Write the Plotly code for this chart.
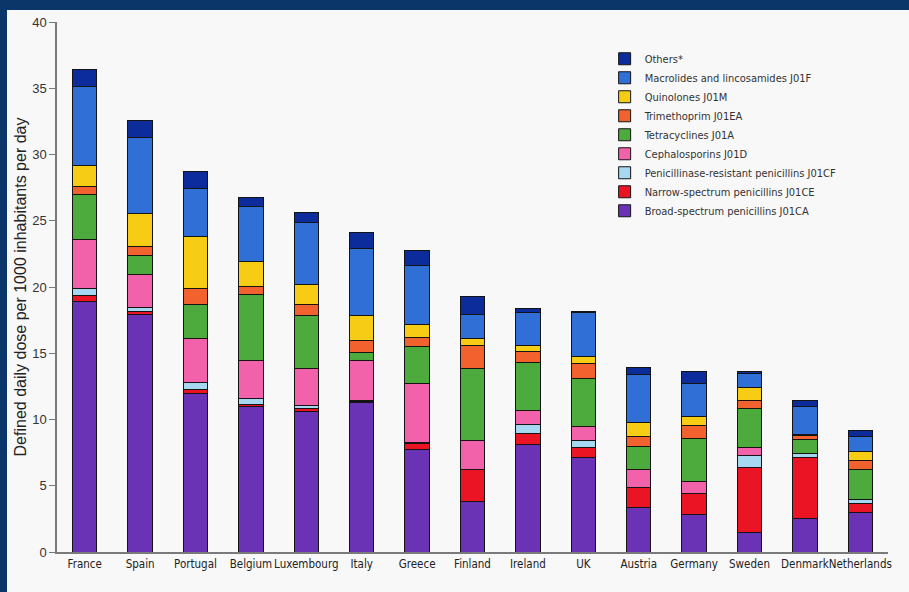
import plotly.graph_objects as go

countries = ["France", "Spain", "Portugal", "Belgium", "Luxembourg", "Italy", "Greece",
             "Finland", "Ireland", "UK", "Austria", "Germany", "Sweden", "Denmark", "Netherlands"]

broad = [18.9, 17.9, 12.0, 11.0, 10.6, 11.25, 7.7, 3.8, 8.1, 7.1, 3.35, 2.85, 1.5, 2.55, 3.0]
narrow = [0.45, 0.25, 0.25, 0.17, 0.25, 0.13, 0.5, 2.4, 0.85, 0.75, 1.5, 1.6, 4.9, 4.6, 0.65]
pen_resistant = [0.5, 0.3, 0.55, 0.45, 0.2, 0.05, 0.05, 0.0, 0.65, 0.6, 0.0, 0.0, 0.9, 0.25, 0.3]
cephalosporins = [3.7, 2.5, 3.35, 2.8, 2.8, 3.05, 4.5, 2.2, 1.1, 1.0, 1.35, 0.9, 0.55, 0.0, 0.0]
tetracyclines = [3.4, 1.45, 2.55, 5.0, 4.0, 0.6, 2.75, 5.45, 3.6, 3.65, 1.8, 3.25, 2.95, 1.1, 2.25]
trimethoprim = [0.6, 0.65, 1.2, 0.6, 0.8, 0.85, 0.7, 1.75, 0.85, 1.1, 0.7, 0.95, 0.65, 0.3, 0.7]
quinolones = [1.6, 2.5, 3.9, 1.9, 1.55, 1.95, 1.0, 0.55, 0.45, 0.55, 1.05, 0.7, 0.95, 0.05, 0.7]
macrolides = [6.0, 5.7, 3.6, 4.15, 4.7, 5.0, 4.4, 1.75, 2.5, 3.3, 3.65, 2.45, 1.05, 2.15, 1.1]
others = [1.3, 1.3, 1.35, 0.65, 0.7, 1.25, 1.15, 1.4, 0.3, 0.1, 0.5, 0.95, 0.2, 0.45, 0.45]

series_names = [
    "Broad-spectrum penicillins J01CA",
    "Narrow-spectrum penicillins J01CE",
    "Penicillinase-resistant penicillins J01CF",
    "Cephalosporins J01D",
    "Tetracyclines J01A",
    "Trimethoprim J01EA",
    "Quinolones J01M",
    "Macrolides and lincosamides J01F",
    "Others*",
]
series_values = [broad, narrow, pen_resistant, cephalosporins, tetracyclines,
                 trimethoprim, quinolones, macrolides, others]
series_colors = ["#6a32b4", "#ea1424", "#a6d8f2", "#f262aa", "#4dab3e",
                 "#f2622e", "#f6cc14", "#2f6fd6", "#0c2c9c"]

y_ticks = [0, 5, 10, 15, 20, 25, 30, 35, 40]

narrow_font = "DejaVu Sans Condensed, Liberation Sans Narrow, Arial Narrow, Liberation Sans, sans-serif"

fig = go.Figure()
for name, vals, col in zip(series_names, series_values, series_colors):
    fig.add_trace(go.Bar(
        x=countries, y=vals, name=name,
        marker=dict(color=col, line=dict(color="#141414", width=1)),
    ))

fig.update_layout(
    barmode="stack",
    bargap=0.56,
    width=909, height=592,
    margin=dict(l=57, r=21, t=22, b=40, autoexpand=False),
    paper_bgcolor="#0a3669",
    plot_bgcolor="rgba(0,0,0,0)",
    font=dict(family=narrow_font, size=12, color="#333333"),
    showlegend=True,
    legend=dict(
        x=0.659, y=0.958, xanchor="left", yanchor="top",
        traceorder="reversed",
        bgcolor="rgba(0,0,0,0)",
        font=dict(family=narrow_font, size=11, color="#333333"),
        itemwidth=30,
        tracegroupgap=0,
    ),
    shapes=[dict(
        type="rect", xref="paper", yref="paper",
        x0=-50/831, x1=1.5, y0=-1, y1=1 + 12/530,
        fillcolor="#f8f8f8", line=dict(width=0), layer="below",
    )],
    xaxis=dict(
        showline=True, linecolor="#7a7a7a", linewidth=1.5,
        ticks="", showgrid=False, tickangle=0, automargin=False,
        tickfont=dict(family=narrow_font, size=11.5, color="#222222"),
    ),
    yaxis=dict(
        range=[0, 40], tickvals=y_ticks, automargin=False,
        showline=True, linecolor="#7a7a7a", linewidth=1.5,
        ticks="outside", ticklen=6, tickcolor="#7a7a7a",
        showgrid=False, zeroline=False,
        tickfont=dict(family="Liberation Sans, Arial, sans-serif", size=13, color="#333333"),
        title=dict(text="Defined daily dose per 1000 inhabitants per day",
                   font=dict(family="Liberation Sans, Arial, sans-serif", size=16, color="#222222"),
                   standoff=2),
    ),
)

fig.write_html("out.html", config={"displayModeBar": False},
               post_script="document.body.style.margin='0';document.body.style.overflow='hidden';")
